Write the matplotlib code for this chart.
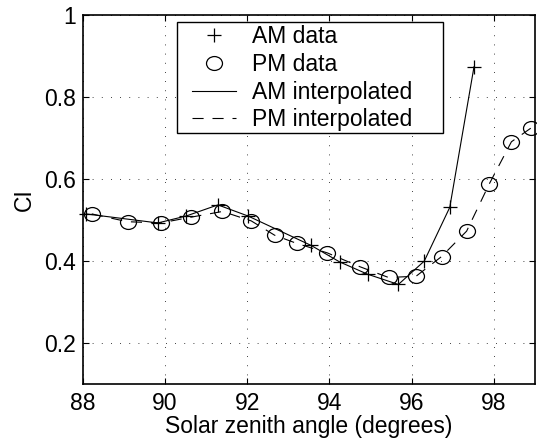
import numpy as np
import matplotlib
matplotlib.use('Agg')
import matplotlib.pyplot as plt
from matplotlib.lines import Line2D
from matplotlib.path import Path
from matplotlib.transforms import Affine2D
from matplotlib.patches import Rectangle

# data
am_x = [88.08, 89.83, 90.52, 91.29, 92.02, 93.56, 94.25, 94.93, 95.68, 96.31, 96.93, 97.52]
am_y = [0.515, 0.493, 0.510, 0.537, 0.510, 0.438, 0.398, 0.368, 0.343, 0.400, 0.531, 0.874]
pm_x = [88.22, 89.09, 89.90, 90.63, 91.40, 92.10, 92.67, 93.21, 93.95, 94.75, 95.44,
        96.11, 96.73, 97.34, 97.89, 98.43, 98.90]
pm_y = [0.515, 0.496, 0.493, 0.507, 0.521, 0.498, 0.463, 0.443, 0.420, 0.386, 0.360,
        0.363, 0.411, 0.473, 0.588, 0.691, 0.724]
x_ticks = [88, 90, 92, 94, 96, 98]
y_ticks = [0.2, 0.4, 0.6, 0.8, 1.0]
y_tick_labels = ['0.2', '0.4', '0.6', '0.8', '1']
labels = ['AM data', 'PM data', 'AM interpolated', 'PM interpolated']

plt.rcParams['font.family'] = ['Liberation Sans', 'DejaVu Sans']
plt.rcParams['font.size'] = 16.5

# slightly wide circle, like the original export
oval = Path.unit_circle().transformed(Affine2D().scale(1.15, 1.0))
dash = (0, (10, 8))
lw = 0.8

fig = plt.figure(figsize=(5.37, 4.43), dpi=100)
ax = fig.add_axes([0.154, 0.133, 0.842, 0.833])

# interpolated curves
ax.plot(am_x, am_y, color='black', lw=lw, ls='-')
ax.plot(pm_x, pm_y, color='black', lw=lw, ls=dash)
# data markers
ax.plot(am_x, am_y, ls='none', marker='+', ms=10.5, mew=0.9, color='black', clip_on=False)
ax.plot(pm_x, pm_y, ls='none', marker=oval, ms=11.5, mew=0.9, mfc='none', mec='black', clip_on=False)

ax.set_xlim(88, 99)
ax.set_ylim(0.1, 1)
ax.set_xticks(x_ticks)
ax.set_yticks(y_ticks)
ax.set_yticklabels(y_tick_labels)
ax.tick_params(direction='in', length=4, width=0.8, top=True, right=True)
ax.tick_params(axis='x', pad=6)
ax.tick_params(axis='y', pad=5)
for s in ax.spines.values():
    s.set_linewidth(1.2)
ax.grid(True, color='black', lw=0.6, ls=(0, (1, 10)))
ax.set_xlabel('Solar zenith angle (degrees)', labelpad=0)
ax.set_ylabel('CI', labelpad=6)

handles = [
    Line2D([], [], ls='none', marker='+', ms=10.5, mew=0.9, color='black'),
    Line2D([], [], ls='none', marker=oval, ms=11.5, mew=0.9, mfc='none', mec='black'),
    Line2D([], [], color='black', lw=lw),
    Line2D([], [], color='black', lw=lw, ls=dash),
]
leg = ax.legend(handles, labels, loc='upper left', bbox_to_anchor=(0.2417, 0.972),
                frameon=False, borderpad=0, borderaxespad=0,
                labelspacing=0.2, handlelength=1.9, handletextpad=0.7)
leg.set_zorder(5)
# legend box
ax.add_patch(Rectangle((0.2085, 0.680), 0.588, 0.301, transform=ax.transAxes,
                       facecolor='white', edgecolor='black', lw=1.0, zorder=4))

fig.savefig('out.png', dpi=100)
